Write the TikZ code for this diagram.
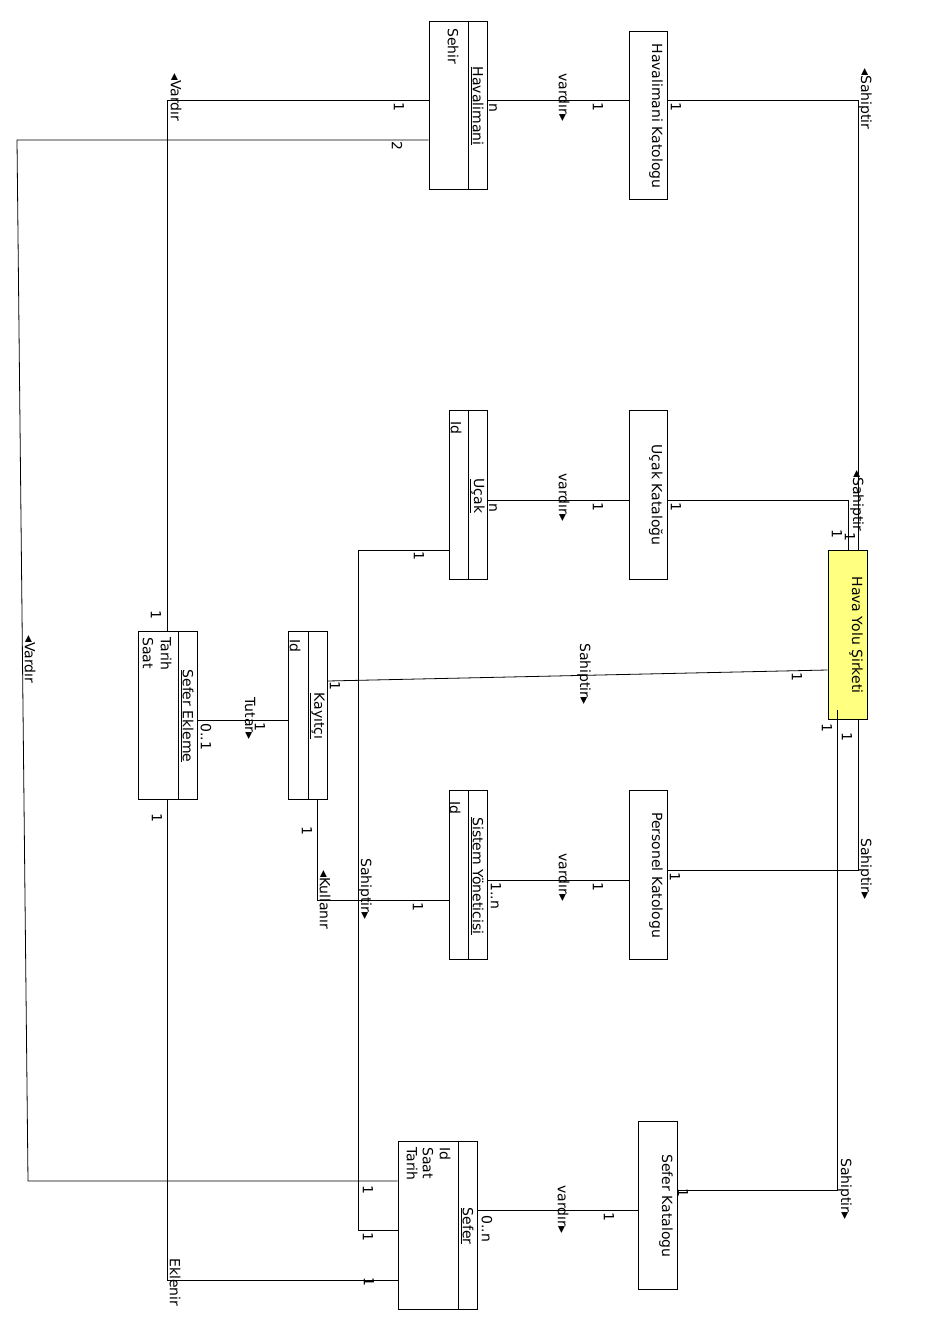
\documentclass[tikz,border=0pt]{standalone}
\usepackage{fontspec}
\setmainfont{DejaVu Sans}
\usetikzlibrary{calc}
\definecolor{hyellow}{RGB}{255,255,128}
\tikzset{
  rt/.style={rotate=-90, inner sep=0pt, font=\fontsize{14}{16}\selectfont},
  lbl/.style={rt, anchor=west},
  mult/.style={rt, anchor=center},
  cls/.style={draw, rectangle, inner sep=0pt, line width=0.8pt},
  conn/.style={draw, line width=0.8pt},
}
\begin{document}
\begin{tikzpicture}[x=1pt, y=-1pt]
\useasboundingbox (0,0) rectangle (940,1340);

% ---------- boxes ----------
\node[cls, minimum width=58pt, minimum height=168pt] (hav) at (458,105) {};
\node[cls, minimum width=38pt, minimum height=168pt] (hkat) at (648,115) {};
\node[cls, minimum width=38pt, minimum height=169pt] (ucak) at (468,494.5) {};
\node[cls, minimum width=38pt, minimum height=169pt] (ukat) at (648,494.5) {};
\node[cls, fill=hyellow, minimum width=39pt, minimum height=169pt] (hys) at (847.5,634.5) {};
\node[cls, minimum width=39pt, minimum height=168pt] (kay) at (307.5,715) {};
\node[cls, minimum width=59pt, minimum height=168pt] (sek) at (167.5,715) {};
\node[cls, minimum width=38pt, minimum height=169pt] (sy) at (468,874.5) {};
\node[cls, minimum width=38pt, minimum height=169pt] (pkat) at (648,874.5) {};
\node[cls, minimum width=79pt, minimum height=168pt] (sefer) at (437.5,1225) {};
\node[cls, minimum width=39pt, minimum height=168pt] (skat) at (657.5,1205) {};

% compartment dividers
\foreach \b in {hav,ucak,kay,sek,sy,sefer}{
  \draw[line width=0.8pt] ([xshift=-19.5pt]\b.north east) -- ([xshift=-19.5pt]\b.south east);
}

% ---------- class names ----------
\node[mult] (nhav) at (477,106) {\underline{Havalimani}};
\node[mult] (nucak) at (477,496) {\underline{Uçak}};
\node[mult] (nkay) at (317,716) {\underline{Kayıtçı}};
\node[mult] (nsek) at (187,716) {\underline{Sefer Ekleme}};
\node[mult] (nsy) at (477,876) {\underline{Sistem Yöneticisi}};
\node[mult] (nsefer) at (467,1226) {\underline{Sefer}};
\node[mult] (nhkat) at (656,116) {Havalimani Katologu};
\node[mult] (nukat) at (656,495) {Uçak Kataloğu};
\node[mult] (npkat) at (656,875) {Personel Katologu};
\node[mult] (nskat) at (666,1206) {Sefer Katalogu};
\node[mult] (nhys) at (856,635) {Hava Yolu Şirketi};

% ---------- attributes ----------
\node[lbl] (ahav) at (453,28) {Sehir};
\node[lbl] (aucak) at (456,421) {Id};
\node[lbl] (akay) at (295,639) {Id};
\node[lbl] (asek1) at (166,637) {Tarih};
\node[lbl] (asek2) at (148,637) {Saat};
\node[lbl] (asy) at (455,801) {Id};
\node[lbl] (asef1) at (445,1147) {Id};
\node[lbl] (asef2) at (428,1147) {Saat};
\node[lbl] (asef3) at (412,1147) {Tarih};

% ---------- bend points ----------
\coordinate (bA) at (858,100);
\coordinate (bB) at (167,100);
\coordinate (bC) at (17,140);
\coordinate (bD) at (28,1181);
\coordinate (bE) at (848,500);
\coordinate (bF) at (358,550);
\coordinate (bG) at (358,1230);
\coordinate (bH) at (167,1280);
\coordinate (bI) at (317,900);
\coordinate (bJ) at (858,870);
\coordinate (bK) at (837,1190);
\coordinate (yA) at (0,100);
\coordinate (yE) at (0,500);
\coordinate (yL) at (0,880);
\coordinate (yO) at (0,1210);

% ---------- connectors ----------
\draw[conn] (hav.east |- yA) -- (hkat.west |- yA);
\draw[conn] (hkat.east |- bA) -- (bA) -- (bA |- hys.north);
\draw[conn] (hav.west |- bB) -- (bB) -- (bB |- sek.north);
\draw[conn] (hav.west |- bC) -- (bC) -- (bD) -- (bD -| sefer.west);
\draw[conn] (ucak.east |- yE) -- (ukat.west |- yE);
\draw[conn] (ukat.east |- bE) -- (bE) -- (bE |- hys.north);
\draw[conn] (ucak.west |- bF) -- (bF) -- (bG) -- (bG -| sefer.west);
\draw[conn] ([yshift=34pt]kay.east) -- ([yshift=-35.5pt]hys.west);
\draw[conn] ([yshift=-5pt]sek.east) -- ([yshift=-5pt]kay.west);
\draw[conn] (bH |- sek.south) -- (bH) -- (bH -| sefer.west);
\draw[conn] (bI |- kay.south) -- (bI) -- (bI -| sy.west);
\draw[conn] (sy.east |- yL) -- (pkat.west |- yL);
\draw[conn] (pkat.east |- bJ) -- (bJ) -- (bJ |- hys.south);
\draw[conn] ($(bK |- hys.south)+(0,-9)$) -- (bK) -- (bK -| skat.east);
\draw[conn] (sefer.east |- yO) -- (skat.west |- yO);

% ---------- multiplicities ----------
\node[mult] (m1) at (493,108) {n};
\node[mult] (m2) at (598,107) {1};
\node[mult] (m3) at (676,107) {1};
\node[mult] (m4) at (399,107) {1};
\node[mult] (m5) at (397,146) {2};
\node[mult] (m6) at (493,508) {n};
\node[mult] (m7) at (598,507) {1};
\node[mult] (m8) at (676,507) {1};
\node[mult] (m9) at (419,556) {1};
\node[mult] (m10) at (837,534) {1};
\node[mult] (m11) at (850,537) {1};
\node[mult] (m12) at (827,728) {1};
\node[mult] (m13) at (847,737) {1};
\node[mult] (m14) at (797,677) {1};
\node[mult] (m15) at (335,686) {1};
\node[mult] (m16) at (260,727) {1};
\node[lbl] (m17) at (206,723) {0..1};
\node[mult] (m18) at (156,615) {1};
\node[mult] (m19) at (157,818) {1};
\node[mult] (m20) at (307,831) {1};
\node[mult] (m21) at (418,907) {1};
\node[lbl] (m22) at (496,882) {1..n};
\node[mult] (m23) at (598,887) {1};
\node[mult] (m24) at (675,877) {1};
\node[mult] (m25) at (368,1190) {1};
\node[mult] (m26) at (368,1237) {1};
\node[mult] (m27) at (369,1282) {1};
\node[lbl] (m28) at (487,1215) {0..n};
\node[mult] (m29) at (609,1217) {1};
\node[mult] (m30) at (683,1193) {1};

% ---------- association names ----------
\node[lbl] (l1) at (564,73) {vardır▸};
\node[lbl] (l2) at (564,473) {vardır▸};
\node[lbl] (l3) at (564,853) {vardır▸};
\node[lbl] (l4) at (563,1185) {vardır▸};
\node[lbl] (l5) at (865,68) {◂Sahiptir};
\node[lbl] (l6) at (857,470) {◂Sahiptir};
\node[lbl] (l7) at (584,643) {Sahiptir▸};
\node[lbl] (l8) at (865,838) {Sahiptir▸};
\node[lbl] (l9) at (845,1158) {Sahiptir▸};
\node[lbl] (l10) at (365,858) {Sahiptir▸};
\node[lbl] (l11) at (176,73) {◂Vardır};
\node[lbl] (l12) at (30,635) {◂Vardır};
\node[lbl] (l13) at (250,697) {Tutar▸};
\node[lbl] (l14) at (325,870) {◂Kullanır};
\node[lbl] (l15) at (175,1258) {Eklenir};
\end{tikzpicture}
\end{document}
